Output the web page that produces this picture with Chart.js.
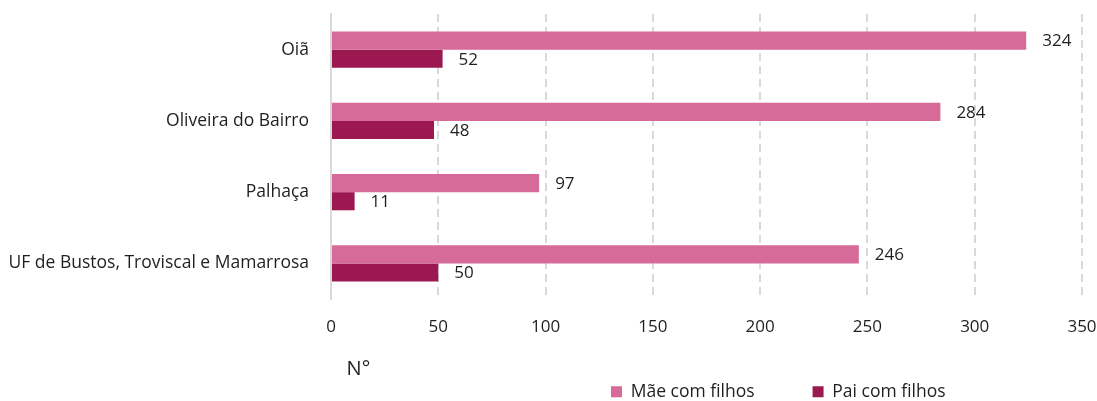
<!DOCTYPE html>
<html>
<head>
<meta charset="utf-8">
<script src="https://cdn.jsdelivr.net/npm/chart.js@4"></script>
<style>
  html, body { margin: 0; padding: 0; background: #fff; }
  #wrap { width: 1097px; height: 401px; }
</style>
</head>
<body>
<div id="wrap"><canvas id="familias"></canvas></div>
<script>
const freguesias = ['Oiã', 'Oliveira do Bairro', 'Palhaça', 'UF de Bustos, Troviscal e Mamarrosa'];
const maeComFilhos = [324, 284, 97, 246];
const paiComFilhos = [52, 48, 11, 50];
const xTicks = [0, 50, 100, 150, 200, 250, 300, 350];

const FONT = "'Open Sans', 'Noto Sans', sans-serif";
const TXT = '#1f1f1f';

// numbers to the right of each bar
const barLabels = {
    id: 'barLabels',
    afterDatasetsDraw(chart) {
        const ctx = chart.ctx;
        ctx.save();
        ctx.font = '17px ' + FONT;
        ctx.fillStyle = TXT;
        ctx.textAlign = 'left';
        ctx.textBaseline = 'middle';
        chart.data.datasets.forEach((ds, i) => {
            chart.getDatasetMeta(i).data.forEach((bar, j) => {
                ctx.fillText(ds.data[j], bar.x + 16, bar.y + 1);
            });
        });
        ctx.restore();
    }
};

// move the legend to where the original has it
const legendPlace = {
    id: 'legendPlace',
    afterLayout(chart) {
        const lg = chart.legend;
        lg.left = 553;
        lg.right = 1097;
        lg.top = 325;
        lg.bottom = 401;
    }
};

const ctx = document.getElementById('familias').getContext('2d');

const familiasChart = new Chart(ctx, {
    type: 'bar',
    data: {
        labels: freguesias,
        datasets: [
            { label: 'Mãe com filhos', data: maeComFilhos, backgroundColor: '#d66a98' },
            { label: 'Pai com filhos', data: paiComFilhos, backgroundColor: '#9b1850' }
        ]
    },
    plugins: [barLabels, legendPlace],
    options: {
        indexAxis: 'y',
        responsive: true,
        maintainAspectRatio: false,
        animation: false,
        layout: { padding: { top: 14, right: 15, left: 0, bottom: 0 } },
        datasets: {
            bar: { categoryPercentage: 0.51, barPercentage: 1 }
        },
        scales: {
            x: {
                min: 0,
                max: 350,
                afterBuildTicks(scale) {
                    scale.ticks = xTicks.map(v => ({ value: v }));
                },
                afterFit(scale) {
                    scale.paddingRight = 0;
                    scale.height = 92;
                },
                grid: { color: '#d9d9d9', lineWidth: 2, drawTicks: false },
                border: { display: false, dash: [8, 5] },
                ticks: { color: TXT, padding: 18, font: { family: FONT, size: 17 } },
                title: {
                    display: true,
                    text: '   N°',
                    align: 'start',
                    color: TXT,
                    font: { family: FONT, size: 20 },
                    padding: { top: 10, bottom: 10 }
                }
            },
            y: {
                afterFit(scale) {
                    scale.width = 331;
                    scale.paddingTop = 0;
                    scale.paddingBottom = 0;
                },
                grid: { display: false, drawTicks: false },
                border: { display: true, color: '#d9d9d9', width: 2 },
                ticks: { color: TXT, padding: 22, font: { family: FONT, size: 17.5 } }
            }
        },
        plugins: {
            legend: {
                position: 'bottom',
                align: 'start',
                maxHeight: 10,
                labels: {
                    boxWidth: 11,
                    boxHeight: 11,
                    padding: 58,
                    color: TXT,
                    font: { family: FONT, size: 17.5 }
                }
            },
            tooltip: { enabled: false }
        }
    }
});
</script>
</body>
</html>
